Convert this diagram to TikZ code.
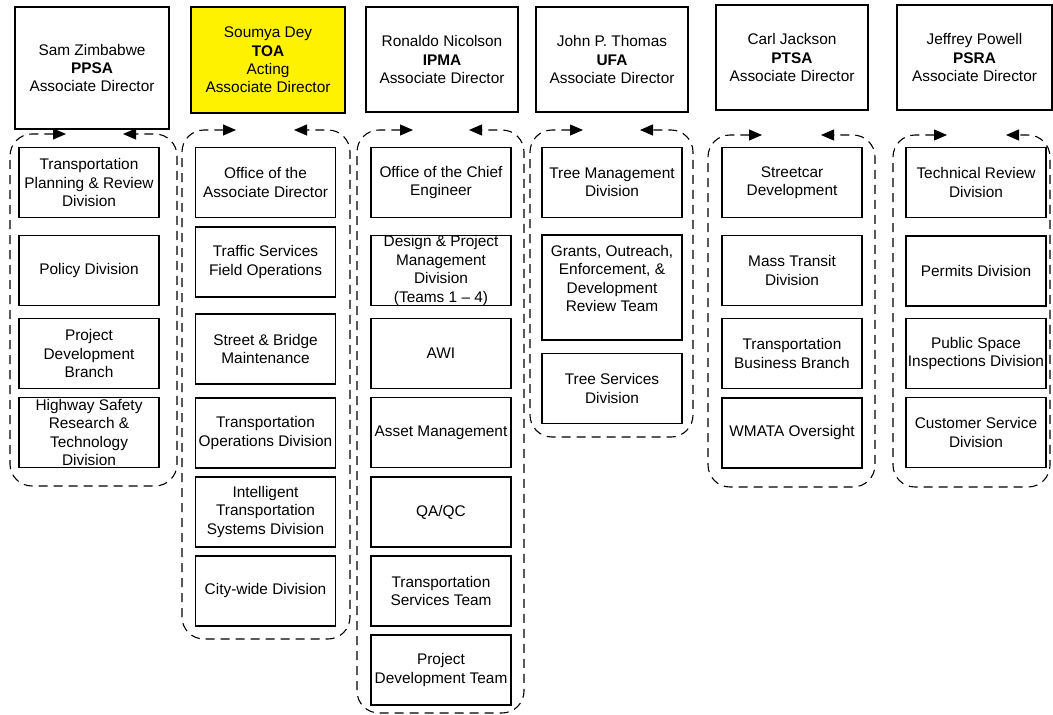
\documentclass[tikz,border=0pt]{standalone}
\usepackage{fontspec}
\setmainfont{Liberation Sans}
\usetikzlibrary{arrows.meta}

\begin{document}
\begin{tikzpicture}[x=1pt,y=-1pt,line width=1.1pt,
  font=\fontsize{15.4pt}{18.4pt}\selectfont,
  hd/.style={draw,minimum width=154pt,minimum height=105pt,align=center,inner sep=1pt},
  box/.style={draw,minimum width=140pt,minimum height=70pt,align=center,inner sep=1pt},
  txt/.style={align=center,inner sep=0pt},
  grp/.style={dash pattern=on 9pt off 6pt,rounded corners=22pt,
    {Triangle[length=13pt,width=11pt]}-{Triangle[length=13pt,width=11pt]}}]
\useasboundingbox (0,0) rectangle (1053,715);
\begin{scope}
% associate directors
\node[hd,minimum height=122pt] (ppsa) at (92,68) {Sam Zimbabwe\\\textbf{PPSA}\\Associate Director};
\node[hd,minimum height=106pt,fill=yellow] (toa) at (268,60) {Soumya Dey\\\textbf{TOA}\\Acting\\Associate Director};
\node[hd,minimum width=152pt] (ipma) at (442,59.5) {Ronaldo Nicolson\\\textbf{IPMA}\\Associate Director};
\node[hd,minimum width=152pt] (ufa) at (612,59.5) {John P. Thomas\\\textbf{UFA}\\Associate Director};
\node[hd,minimum width=152pt] (ptsa) at (792,57.5) {Carl Jackson\\\textbf{PTSA}\\Associate Director};
\node[hd,minimum width=155pt] (psra) at (974.5,57.5) {Jeffrey Powell\\\textbf{PSRA}\\Associate Director};
\end{scope}

\begin{scope}
% PPSA
\node[box] (pp1) at (89,182.5) {Transportation\\Planning \& Review\\Division};
\node[box] (pp2) at (89,270.5) {Policy Division};
\node[box] (pp3) at (89,353.5) {Project\\Development\\Branch};
\node[box] (pp4) at (89,432.5) {};
\node[txt] (pp4t) at (pp4.center) {Highway Safety\\Research \&\\Technology\\Division};
% TOA
\node[box] (to1) at (265.5,182.5) {Office of the\\Associate Director};
\node[box] (to2) at (265.5,262) {Traffic Services\\Field Operations};
\node[box] (to3) at (265.5,349) {Street \& Bridge\\Maintenance};
\node[box] (to4) at (265.5,433) {Transportation\\Operations Division};
\node[box] (to5) at (265.5,512) {Intelligent\\Transportation\\Systems Division};
\node[box] (to6) at (265.5,591) {City-wide Division};
% IPMA
\node[box] (ip1) at (441,182.5) {Office of the Chief\\Engineer};
\node[box] (ip2) at (441,270.5) {};
\node[txt] (ip2t) at (ip2.center) {Design \& Project\\Management\\Division\\(Teams 1 – 4)};
\node[box] (ip3) at (441,353.5) {AWI};
\node[box] (ip4) at (441,432.5) {Asset Management};
\node[box] (ip5) at (441,512) {QA/QC};
\node[box] (ip6) at (441,591) {Transportation\\Services Team};
\node[box] (ip7) at (441,670) {Project\\Development Team};
% UFA
\node[box] (uf1) at (612,182.5) {Tree Management\\Division};
\node[box,minimum height=105pt] (uf2) at (612,287.5) {};
\node[txt] (uf2t) at ([yshift=9pt]uf2.center) {Grants, Outreach,\\Enforcement, \&\\Development\\Review Team};
\node[box] (uf3) at (612,388.5) {Tree Services\\Division};
% PTSA
\node[box] (pt1) at (792,182.5) {Streetcar\\Development};
\node[box] (pt2) at (792,270.5) {Mass Transit\\Division};
\node[box] (pt3) at (792,353.5) {Transportation\\Business Branch};
\node[box] (pt4) at (792,433) {WMATA Oversight};
% PSRA
\node[box] (ps1) at (976,182.5) {Technical Review\\Division};
\node[box] (ps2) at (976,271) {Permits Division};
\node[box] (ps3) at (976,353.5) {Public Space\\Inspections Division};
\node[box] (ps4) at (976,432.5) {Customer Service\\Division};
\end{scope}

% dashed groups
\coordinate (ppl) at (66,134);  \coordinate (ppr) at (123,134);
\coordinate (tol) at (236,130); \coordinate (tor) at (294,130);
\coordinate (ipl) at (413,130); \coordinate (ipr) at (469,130);
\coordinate (ufl) at (583,130); \coordinate (ufr) at (640,130);
\coordinate (ptl) at (762,135); \coordinate (ptr) at (821,135);
\coordinate (psl) at (947,135); \coordinate (psr) at (1006,135);
\draw[grp] (ppl) -- (10,134) -- (10,486) -- (177,486) -- (177,134) -- (ppr);
\draw[grp] (tol) -- (182,130) -- (182,639) -- (350,639) -- (350,130) -- (tor);
\draw[grp] (ipl) -- (357,130) -- (357,713) -- (524,713) -- (524,130) -- (ipr);
\draw[grp] (ufl) -- (530,130) -- (530,437) -- (693,437) -- (693,130) -- (ufr);
\draw[grp] (ptl) -- (708,135) -- (708,487) -- (875,487) -- (875,135) -- (ptr);
\draw[grp] (psl) -- (893,135) -- (893,487) -- (1050,487) -- (1050,135) -- (psr);
\end{tikzpicture}
\end{document}
